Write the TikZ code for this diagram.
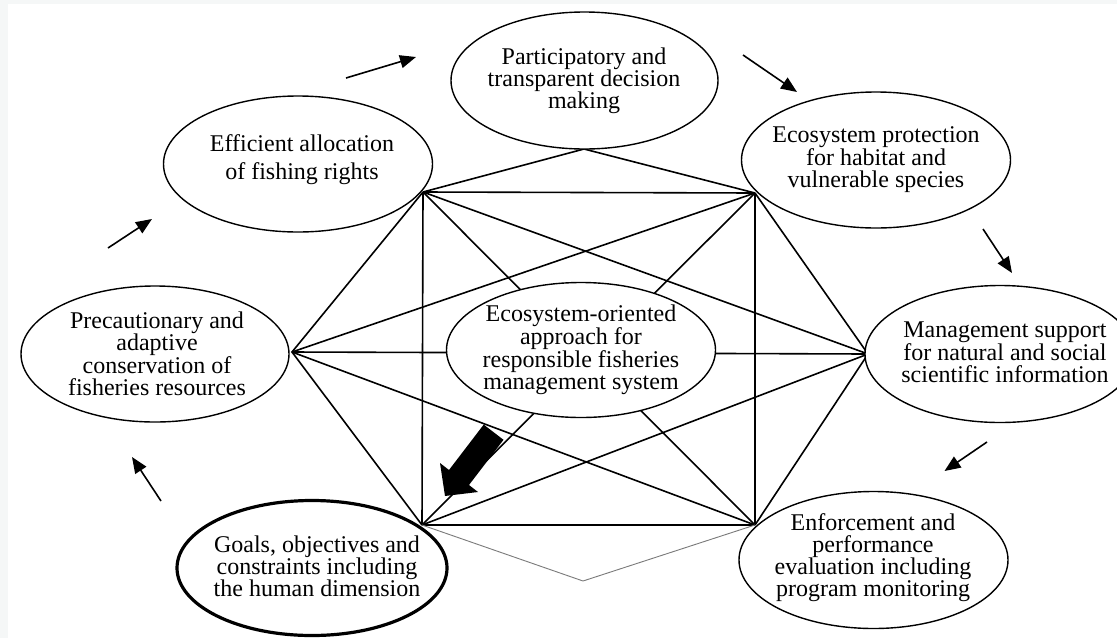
\documentclass[tikz,border=0pt]{standalone}
\usepackage{fontspec}
\setmainfont{Liberation Serif}
\usetikzlibrary{shapes.geometric, arrows.meta}
\definecolor{pagegray}{HTML}{F5F7F7}
\definecolor{thingray}{HTML}{7A7A7A}
\begin{document}
\begin{tikzpicture}[x=1pt, y=-1pt,
  oval/.style={draw, ellipse, line width=1.4pt, inner sep=0pt, fill=white},
  txt/.style={align=center, font=\fontsize{24}{22}\selectfont, inner sep=0pt},
  link/.style={line width=1.6pt},
  faint/.style={line width=0.9pt, draw=thingray},
  flow/.style={line width=1.6pt, -{Triangle[length=16pt,width=13pt]}},
]
% page and frame
\useasboundingbox (0,0) rectangle (1117,638);
\fill[pagegray] (0,0) rectangle (1117,638);
\fill[white] (8,4) rectangle (1117,638);

% meeting points of the connecting lines
\coordinate (TL)  at (423,192);
\coordinate (Top) at (584,149);
\coordinate (TR)  at (755,193);
\coordinate (L)   at (292,352);
\coordinate (R)   at (868,354);
\coordinate (BL)  at (422,525);
\coordinate (BR)  at (755,525);
\coordinate (Bot) at (583,581);

% network of links
\draw[link] (TL) -- (Top) -- (TR);
\draw[link] (TL) -- (TR);
\draw[link] (TL) -- (BL);
\draw[link] (TR) -- (BR);
\draw[link] (BL) -- (BR);
\draw[link] (TL) -- (L) -- (BL);
\draw[link] (TR) -- (R) -- (BR);
\draw[link] (L) -- (R);
\draw[link] (TL) -- (BR);
\draw[link] (TR) -- (BL);
\draw[link] (TL) -- (R);
\draw[link] (TR) -- (L);
\draw[link] (L) -- (BR);
\draw[link] (R) -- (BL);
\draw[faint] (BL) -- (Bot) -- (BR);

% central system
\node[oval, minimum width=269pt, minimum height=135pt] (core) at (581,350) {};
\node[txt] (coreT) at (581,350) {Ecosystem-oriented\\approach for\\responsible fisheries\\management system};

% surrounding components
\node[oval, minimum width=267pt, minimum height=137pt] (part) at (584.5,80.5) {};
\node[txt] (partT) at (584,81) {Participatory and\\transparent decision\\making};

\node[oval, minimum width=269pt, minimum height=136pt] (eff) at (298,164) {};
\node[txt, font=\fontsize{24}{28}\selectfont] (effT) at (302,160) {Efficient allocation\\of fishing rights};

\node[oval, minimum width=269pt, minimum height=136pt] (eco) at (876,160) {};
\node[txt] (ecoT) at (876,160) {Ecosystem protection\\for habitat and\\vulnerable species};

\node[oval, minimum width=268pt, minimum height=136pt] (prec) at (155,354) {};
\node[txt] (precT) at (157,354) {Precautionary and\\adaptive\\conservation of\\fisheries resources};

\node[oval, minimum width=270pt, minimum height=137pt] (mgmt) at (1000,354) {};
\node[txt] (mgmtT) at (1005,352) {Management support\\for natural and social\\scientific information};

\node[oval, minimum width=269pt, minimum height=137pt] (enf) at (873.5,560) {};
\node[txt] (enfT) at (873,558) {Enforcement and\\performance\\evaluation including\\program monitoring};

\node[oval, line width=3.2pt, minimum width=270pt, minimum height=135pt] (goals) at (312,568) {};
\node[txt] (goalsT) at (317,566) {Goals, objectives and\\constraints including\\the human dimension};

% cycle arrows
\coordinate (a1s) at (346,78);   \coordinate (a1e) at (416,57);
\coordinate (a2s) at (108,248);  \coordinate (a2e) at (152,219);
\coordinate (a3s) at (743,55);   \coordinate (a3e) at (797,92);
\coordinate (a4s) at (983,229);  \coordinate (a4e) at (1012,273);
\coordinate (a5s) at (987,442);  \coordinate (a5e) at (944.5,471);
\coordinate (a6s) at (161,501);  \coordinate (a6e) at (132,457);
\draw[flow] (a1s) -- (a1e);
\draw[flow] (a2s) -- (a2e);
\draw[flow] (a3s) -- (a3e);
\draw[flow] (a4s) -- (a4e);
\draw[flow] (a5s) -- (a5e);
\draw[flow] (a6s) -- (a6e);

% bold arrow from the core system towards the goals
\fill[black] (483.7,424.6) -- (503.5,439.8) -- (469,485) -- (478,492)
  -- (445,496) -- (440,463) -- (449,470) -- cycle;
\end{tikzpicture}
\end{document}
